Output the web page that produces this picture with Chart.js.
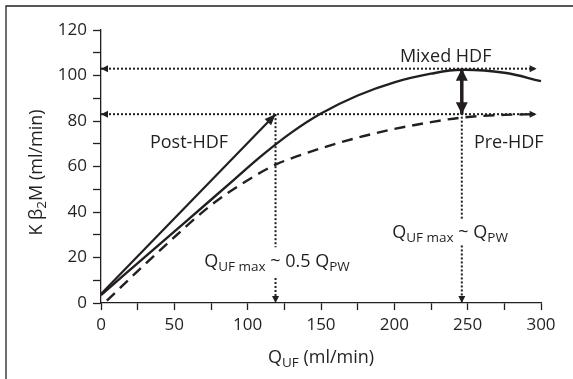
<!DOCTYPE html>
<html>
<head>
<meta charset="utf-8">
<script src="https://cdn.jsdelivr.net/npm/chart.js@4.4.1/dist/chart.umd.min.js"></script>
<style>
  html, body { margin: 0; padding: 0; background: #fff; }
  #wrap { width: 573px; height: 379px; }
</style>
</head>
<body>
<div id="wrap"><canvas id="chart" width="573" height="379"></canvas></div>
<script>
/* dados (QUF em ml/min, K beta2M em ml/min) */
const qMixed = [0, 30, 60, 90, 110, 130, 150, 175, 200, 225, 246, 275, 300];
const kMixed = [3.5, 20.3, 37, 53.8, 65, 75, 83.3, 91.2, 97, 100.8, 102.5, 101.2, 97.5];
const qPre = [4, 25, 45, 75, 100, 119, 136, 160, 180, 200, 225, 246, 275, 297];
const kPre = [1, 14, 26, 43, 54, 60.8, 65, 70, 73.5, 76.5, 79.5, 81.5, 82.7, 83];
const qPost = [0, 119];
const kPost = [4, 83];

/* linhas-guia pontilhadas */
const levelMixed = 103;
const levelPre = 83;
const levelEnd = 297;
const qMaxPost = 119;     // ~0.5 QPW
const qMaxPW = 246;       // ~QPW
const gapPost = [24.5, 11];   // intervalo onde fica o texto
const gapPW = [37, 25.3];

/* eixos */
const xTickVals = [0, 25, 50, 75, 100, 125, 150, 175, 200, 225, 250, 275, 300];
const yTickVals = [0, 10, 20, 30, 40, 50, 60, 70, 80, 90, 100, 110, 120];

const ink = '#231f20';
const FONT = '"Open Sans", "DejaVu Sans", sans-serif';

const pts = (xs, ys) => xs.map((x, i) => ({ x: x, y: ys[i] }));

function dotted(data, arrows) {
  return {
    data: data, borderColor: ink, borderWidth: 2, borderDash: [2, 2],
    pointRadius: 0, tension: 0, arrows: arrows || [], headLen: 7, headWid: 3.5
  };
}

/* desenha texto com subscritos: '_' no começo = subscrito */
function drawRich(ctx, parts, x, y, align) {
  const main = '18px ' + FONT, sub = '13.5px ' + FONT;
  let w = 0;
  const ms = parts.map(p => {
    const isSub = p.startsWith('_');
    const t = isSub ? p.slice(1) : p;
    ctx.font = isSub ? sub : main;
    const pw = ctx.measureText(t).width;
    w += pw;
    return { t, isSub, pw };
  });
  let cx = align === 'center' ? x - w / 2 : x;
  ctx.textAlign = 'left';
  ctx.textBaseline = 'alphabetic';
  ms.forEach(m => {
    ctx.font = m.isSub ? sub : main;
    ctx.fillText(m.t, cx, m.isSub ? y + 4 : y);
    cx += m.pw;
  });
}

/* textos do gráfico, ancorados em valores dos eixos */
const notes = [
  { parts: ['Mixed HDF'], x: 235, y: 106 },
  { parts: ['Post-HDF'], x: 60, y: 68.3 },
  { parts: ['Pre-HDF'], x: 278, y: 68.3 },
  { parts: ['Q', '_UF max', ' ~ 0.5 Q', '_PW'], x: 120, y: 15.9 },
  { parts: ['Q', '_UF max', ' ~ Q', '_PW'], x: 238, y: 28.6 }
];

/* fundo + moldura (só as bordas de cima e esquerda aparecem) */
const framePlugin = {
  id: 'frame',
  beforeDraw(chart) {
    const ctx = chart.ctx;
    ctx.save();
    ctx.fillStyle = '#fff';
    ctx.fillRect(0, 0, chart.width, chart.height);
    ctx.strokeStyle = ink;
    ctx.lineWidth = 1.3;
    ctx.beginPath();
    ctx.moveTo(6, chart.height + 2);
    ctx.lineTo(6, 6);
    ctx.lineTo(chart.width + 2, 6);
    ctx.stroke();
    ctx.restore();
  }
};

/* pontas de seta nas extremidades dos datasets marcados */
const arrowPlugin = {
  id: 'arrows',
  afterDatasetsDraw(chart) {
    const ctx = chart.ctx;
    chart.data.datasets.forEach((ds, i) => {
      if (!ds.arrows || !ds.arrows.length) return;
      const els = chart.getDatasetMeta(i).data;
      ds.arrows.forEach(end => {
        const a = end === 'end' ? els[els.length - 1] : els[0];
        const b = end === 'end' ? els[els.length - 2] : els[1];
        const ang = Math.atan2(a.y - b.y, a.x - b.x);
        ctx.save();
        ctx.translate(a.x, a.y);
        ctx.rotate(ang);
        ctx.beginPath();
        ctx.moveTo(0, 0);
        ctx.lineTo(-ds.headLen, -ds.headWid);
        ctx.lineTo(-ds.headLen, ds.headWid);
        ctx.closePath();
        ctx.fillStyle = ink;
        ctx.fill();
        ctx.restore();
      });
    });
  }
};

/* rótulos internos e títulos dos eixos */
const textPlugin = {
  id: 'texts',
  afterDraw(chart) {
    const ctx = chart.ctx;
    const sx = chart.scales.x, sy = chart.scales.y;
    ctx.save();
    ctx.fillStyle = ink;
    notes.forEach(n => drawRich(ctx, n.parts, sx.getPixelForValue(n.x), sy.getPixelForValue(n.y), 'center'));
    // título eixo x
    const ca = chart.chartArea;
    drawRich(ctx, ['Q', '_UF', ' (ml/min)'], (ca.left + ca.right) / 2, 363, 'center');
    // título eixo y
    ctx.translate(35, (ca.top + ca.bottom) / 2 + 6);
    ctx.rotate(-Math.PI / 2);
    drawRich(ctx, ['K \u03b2', '_2', 'M (ml/min)'], 0, 6.5, 'center');
    ctx.restore();
  }
};

const ctx = document.getElementById('chart').getContext('2d');

new Chart(ctx, {
  type: 'line',
  data: {
    datasets: [
      { data: pts(qMixed, kMixed), borderColor: ink, borderWidth: 2.4, pointRadius: 0, tension: 0.4 },
      { data: pts(qPre, kPre), borderColor: ink, borderWidth: 2.4, borderDash: [11, 7], pointRadius: 0,
        cubicInterpolationMode: 'monotone' },
      { data: pts(qPost, kPost), borderColor: ink, borderWidth: 2.2, pointRadius: 0,
        arrows: ['end'], headLen: 11, headWid: 4.5 },
      dotted([{ x: 0, y: levelMixed }, { x: levelEnd, y: levelMixed }], ['start', 'end']),
      dotted([{ x: 0, y: levelPre }, { x: levelEnd, y: levelPre }], ['start', 'end']),
      dotted([{ x: qMaxPost, y: levelPre }, { x: qMaxPost, y: gapPost[0] }]),
      dotted([{ x: qMaxPost, y: gapPost[1] }, { x: qMaxPost, y: 0 }], ['end']),
      dotted([{ x: qMaxPW, y: levelMixed }, { x: qMaxPW, y: gapPW[0] }]),
      dotted([{ x: qMaxPW, y: gapPW[1] }, { x: qMaxPW, y: 0 }], ['end']),
      { data: [{ x: qMaxPW, y: levelMixed }, { x: qMaxPW, y: levelPre }], borderColor: ink, borderWidth: 3.5,
        pointRadius: 0, arrows: ['start', 'end'], headLen: 12, headWid: 6 }
    ]
  },
  options: {
    responsive: false,
    animation: false,
    clip: false,
    layout: { padding: { left: 0, top: 30, right: 32, bottom: 0 } },
    plugins: { legend: { display: false }, tooltip: { enabled: false } },
    scales: {
      x: {
        type: 'linear', min: 0, max: 300,
        afterBuildTicks: s => { s.ticks = xTickVals.map(v => ({ value: v })); },
        afterFit: s => { s.height = 76; },
        ticks: { callback: v => (v % 50 === 0 ? v : ''), autoSkip: false, maxRotation: 0,
                 color: ink, padding: 5, font: { family: FONT, size: 17 } },
        grid: { drawOnChartArea: false, tickLength: 7, tickColor: ink, tickWidth: 1.3 },
        border: { color: ink, width: 1.3 }
      },
      y: {
        type: 'linear', min: 0, max: 120,
        afterBuildTicks: s => { s.ticks = yTickVals.map(v => ({ value: v })); },
        afterFit: s => { s.width = 101; },
        ticks: { callback: v => (v % 20 === 0 ? v : ''), autoSkip: false,
                 color: ink, padding: 6, font: { family: FONT, size: 17 } },
        grid: { drawOnChartArea: false, tickLength: 8, tickColor: ink, tickWidth: 1.3 },
        border: { color: ink, width: 1.3 }
      }
    }
  },
  plugins: [framePlugin, arrowPlugin, textPlugin]
});
</script>
</body>
</html>
